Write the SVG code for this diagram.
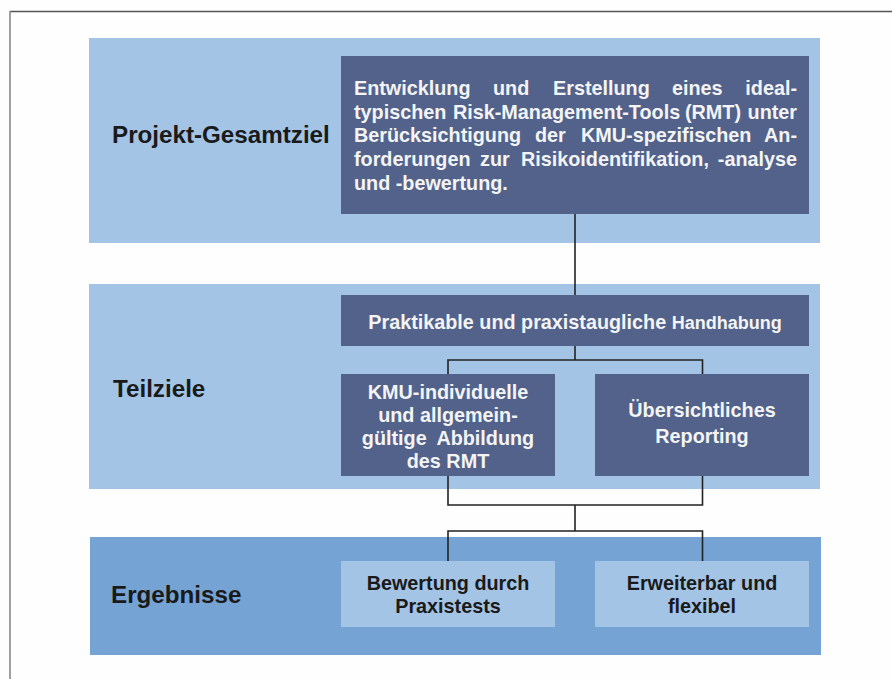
<svg xmlns="http://www.w3.org/2000/svg" width="892" height="679" viewBox="0 0 892 679">
<style>
.bandL{fill:#a4c4e6}
.bandD{fill:#74a3d4}
.dark{fill:#52628a}
.light{fill:#a4c4e6}
.wt{font-family:"Liberation Sans",Arial,sans-serif;font-weight:bold;font-size:19.8px;fill:#f4f4f4}
.bt{font-family:"Liberation Sans",Arial,sans-serif;font-weight:bold;font-size:19.8px;fill:#1a1a1a}
.lbl{font-family:"Liberation Sans",Arial,sans-serif;font-weight:bold;font-size:24.2px;fill:#1a1a1a}
.con{fill:none;stroke:#222;stroke-width:1.6}
</style>
<rect width="892" height="679" fill="#fefefe"/>
<line x1="10" y1="11.5" x2="892" y2="11.5" stroke="#555" stroke-width="1.5"/>
<line x1="10" y1="11" x2="10" y2="679" stroke="#888" stroke-width="1.6"/>

<g id="band1"><rect class="bandL" x="89" y="38" width="731" height="205"/>
<text class="lbl" x="112" y="143">Projekt-Gesamtziel</text></g>
<g id="band2"><rect class="bandL" x="89" y="284" width="731" height="205"/>
<text class="lbl" x="113" y="397">Teilziele</text></g>
<g id="band3"><rect class="bandD" x="90" y="537" width="731" height="118"/>
<text class="lbl" x="111" y="603">Ergebnisse</text></g>

<g id="connectors">
<path class="con" d="M575,214V295"/>
<path class="con" d="M575,346V360M448,374V360H702.5V374"/>
<path class="con" d="M448,476V505H702.5V476M575,505V531M448,561V531H702.5V561"/>
</g>

<g id="ziel"><rect class="dark" x="341" y="56" width="468" height="158"/>
<text class="wt" y="95"><tspan x="354">Entwicklung</tspan><tspan x="493">und</tspan><tspan x="553">Erstellung</tspan><tspan x="672">eines</tspan><tspan x="797" text-anchor="end">ideal-</tspan></text>
<text class="wt" y="118.7"><tspan x="354">typischen</tspan><tspan x="453">Risk-Management-Tools</tspan><tspan x="685">(RMT)</tspan><tspan x="797" text-anchor="end">unter</tspan></text>
<text class="wt" y="142.4"><tspan x="354">Berücksichtigung</tspan><tspan x="535">der</tspan><tspan x="581">KMU-spezifischen</tspan><tspan x="797" text-anchor="end">An-</tspan></text>
<text class="wt" y="166.1"><tspan x="354">forderungen</tspan><tspan x="480">zur</tspan><tspan x="521">Risikoidentifikation,</tspan><tspan x="797" text-anchor="end">-analyse</tspan></text>
<text class="wt" y="189.8" x="354">und -bewertung.</text></g>

<g id="praktikabel"><rect class="dark" x="341" y="295" width="468" height="51"/>
<text class="wt" x="575" y="329" text-anchor="middle">Praktikable und praxistaugliche <tspan style="font-size:18px">Handhabung</tspan></text></g>

<g id="kmu"><rect class="dark" x="341" y="374" width="214" height="102"/>
<text class="wt" text-anchor="middle"><tspan x="448" y="399">KMU-individuelle</tspan><tspan x="448" y="422">und allgemein-</tspan><tspan x="448" y="445" word-spacing="5">gültige Abbildung</tspan><tspan x="448" y="468">des RMT</tspan></text></g>

<g id="reporting"><rect class="dark" x="595" y="374" width="214" height="102"/>
<text class="wt" text-anchor="middle"><tspan x="702" y="417">Übersichtliches</tspan><tspan x="702" y="443">Reporting</tspan></text></g>

<g id="bewertung"><rect class="light" x="341" y="561" width="214" height="66"/>
<text class="bt" text-anchor="middle"><tspan x="448" y="590">Bewertung durch</tspan><tspan x="448" y="613">Praxistests</tspan></text></g>

<g id="erweiterbar"><rect class="light" x="595" y="561" width="214" height="66"/>
<text class="bt" text-anchor="middle"><tspan x="702" y="590">Erweiterbar und</tspan><tspan x="702" y="613">flexibel</tspan></text></g>
</svg>
